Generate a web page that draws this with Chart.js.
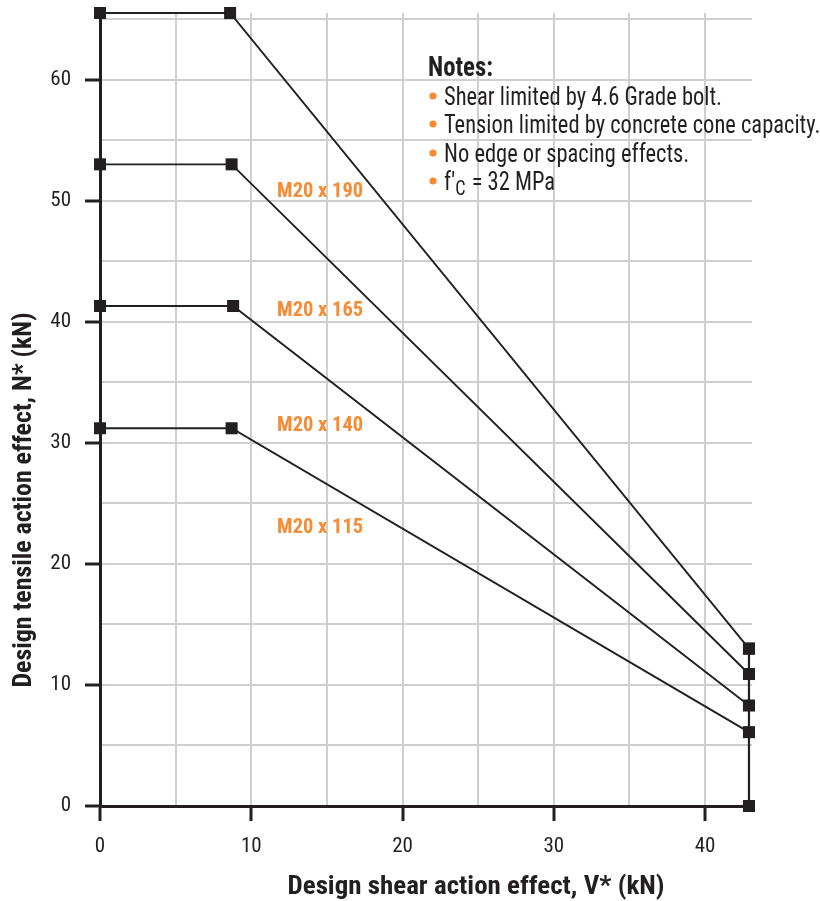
<!DOCTYPE html>
<html>
<head>
<meta charset="utf-8">
<script src="https://cdn.jsdelivr.net/npm/chart.js@4/dist/chart.umd.min.js"></script>
<style>
  html, body { margin: 0; padding: 0; background: #ffffff; }
  #wrap { width: 820px; height: 901px; position: relative; }
</style>
</head>
<body>
<div id="wrap"><canvas id="c" width="820" height="901"></canvas></div>
<script>
// ---- data ----
const seriesNames = ['M20 x 190', 'M20 x 165', 'M20 x 140', 'M20 x 115'];
const shearV = [
  [0, 8.6, 42.9],
  [0, 8.7, 42.9],
  [0, 8.8, 42.9],
  [0, 8.7, 42.9]
];
const tensionN = [
  [65.5, 65.5, 13.0],
  [53.0, 53.0, 10.9],
  [41.3, 41.3, 8.3],
  [31.2, 31.2, 6.1]
];
const boundaryV = [42.9, 42.9];
const boundaryN = [0, 13.0];
const labelAnchorV = [14.55, 14.55, 14.55, 14.55];
const labelAnchorN = [50.7, 40.9, 31.4, 23.0];
const xTicks = [0, 5, 10, 15, 20, 25, 30, 35, 40];
const yTicks = [0, 5, 10, 15, 20, 25, 30, 35, 40, 45, 50, 55, 60, 65];
const notesTitle = 'Notes:';
const notes = ['Shear limited by 4.6 Grade bolt.', 'Tension limited by concrete cone capacity.', 'No edge or spacing effects.'];
const xTitle = 'Design shear action effect, V* (kN)';
const yTitle = 'Design tensile action effect, N* (kN)';

const FONT = "'Liberation Sans Narrow', 'Roboto Condensed', Roboto, 'DejaVu Sans Condensed', sans-serif";
const INK = '#231f20';
const ORANGE = '#f68b33';

const toPts = (xs, ys) => xs.map((v, i) => ({ x: v, y: ys[i] }));

const lineStyle = {
  showLine: true,
  borderColor: INK,
  borderWidth: 1.9,
  pointStyle: 'rect',
  pointRadius: 8.5,
  pointHoverRadius: 8.5,
  pointBackgroundColor: INK,
  pointBorderWidth: 0,
  clip: false,
  tension: 0
};

const datasets = seriesNames.map((n, i) => Object.assign({ label: n, data: toPts(shearV[i], tensionN[i]) }, lineStyle));
datasets.push(Object.assign({ label: 'limit', data: toPts(boundaryV, boundaryN) }, lineStyle, { borderWidth: 2.2 }));

// draw text compressed horizontally by factor sx, anchored at (x,y)
function drawScaled(ctx, text, x, y, sx) {
  ctx.save();
  ctx.translate(x, y);
  ctx.scale(sx, 1);
  ctx.fillText(text, 0, 0);
  ctx.restore();
}

const textPlugin = {
  id: 'texts',
  afterDraw(chart) {
    const ctx = chart.ctx;
    const xs = chart.scales.x, ys = chart.scales.y;
    ctx.save();
    // series labels
    ctx.fillStyle = ORANGE;
    ctx.font = "bold 21px " + FONT;
    ctx.textAlign = 'center';
    ctx.textBaseline = 'middle';
    const lw = ctx.measureText(seriesNames[0]).width;
    const lsx = 86 / lw;
    seriesNames.forEach((n, i) => {
      drawScaled(ctx, n, xs.getPixelForValue(labelAnchorV[i]), ys.getPixelForValue(labelAnchorN[i]), lsx);
    });
    // notes
    ctx.textAlign = 'left';
    ctx.textBaseline = 'alphabetic';
    ctx.fillStyle = INK;
    ctx.font = "bold 28px " + FONT;
    drawScaled(ctx, notesTitle, 428, 76, 65 / ctx.measureText(notesTitle).width);
    ctx.font = "26px " + FONT;
    const nsx = 278 / ctx.measureText(notes[0]).width;
    const baselines = [105, 133, 162, 190];
    notes.forEach((t, i) => {
      ctx.fillStyle = ORANGE;
      ctx.beginPath(); ctx.arc(433, baselines[i] - 9, 3.6, 0, Math.PI * 2); ctx.fill();
      ctx.fillStyle = INK;
      drawScaled(ctx, t, 444, baselines[i], nsx);
    });
    // f'c line
    const b4 = baselines[3];
    ctx.fillStyle = ORANGE;
    ctx.beginPath(); ctx.arc(433, b4 - 9, 3.6, 0, Math.PI * 2); ctx.fill();
    ctx.fillStyle = INK;
    let x = 444;
    drawScaled(ctx, "f'", x, b4, nsx); x += ctx.measureText("f'").width * nsx;
    ctx.font = "21px " + FONT;
    drawScaled(ctx, 'C', x, b4 + 5, nsx); x += ctx.measureText('C').width * nsx + 1;
    ctx.font = "26px " + FONT;
    drawScaled(ctx, ' = 32 MPa', x, b4, nsx);
    // axis titles
    ctx.font = "bold 26px " + FONT;
    ctx.textAlign = 'center';
    ctx.textBaseline = 'alphabetic';
    drawScaled(ctx, xTitle, 476, 894, 377 / ctx.measureText(xTitle).width);
    const ysx = 375 / ctx.measureText(yTitle).width;
    ctx.translate(31, 500);
    ctx.rotate(-Math.PI / 2);
    drawScaled(ctx, yTitle, 0, 0, ysx);
    ctx.restore();
  }
};

const tickMarkColor = (c) => (c.tick && c.tick.value % 10 === 0) ? INK : 'rgba(0,0,0,0)';

new Chart(document.getElementById('c'), {
  type: 'scatter',
  data: { datasets },
  options: {
    responsive: false,
    animation: false,
    events: [],
    layout: { padding: { left: 0, top: 13, right: 68, bottom: 0 } },
    plugins: { legend: { display: false }, tooltip: { enabled: false } },
    scales: {
      x: {
        type: 'linear',
        min: 0,
        max: 43.1,
        afterBuildTicks: (s) => { s.ticks = xTicks.map(v => ({ value: v })); },
        afterFit: (s) => { s.height = 95; s.paddingLeft = 0; s.paddingRight = 0; },
        grid: { color: '#cfcfcf', lineWidth: 2, tickLength: 15, tickColor: tickMarkColor, tickWidth: 3 },
        border: { color: INK, width: 3 },
        ticks: {
          autoSkip: false,
          maxRotation: 0,
          padding: 13,
          color: INK,
          font: { family: FONT, size: 21 },
          callback: (v) => (v % 10 === 0 ? String(v) : '')
        }
      },
      y: {
        type: 'linear',
        min: 0,
        max: 65.5,
        afterBuildTicks: (s) => { s.ticks = yTicks.map(v => ({ value: v })); },
        afterFit: (s) => { s.width = 100; s.paddingTop = 0; s.paddingBottom = 0; },
        grid: { color: '#cfcfcf', lineWidth: 2, tickLength: 15, tickColor: tickMarkColor, tickWidth: 3 },
        border: { color: INK, width: 3 },
        ticks: {
          autoSkip: false,
          padding: 14,
          color: INK,
          font: { family: FONT, size: 21 },
          callback: (v) => (v % 10 === 0 ? String(v) : '')
        }
      }
    }
  },
  plugins: [textPlugin]
});
</script>
</body>
</html>
